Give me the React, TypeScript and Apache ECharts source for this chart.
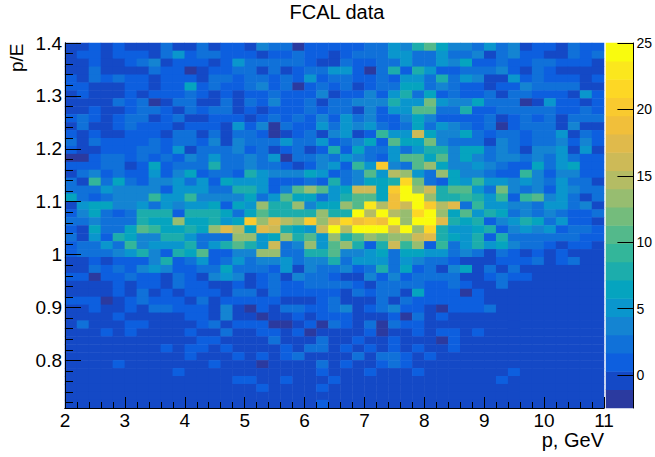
import React, { useEffect, useRef } from "react";
import * as echarts from "echarts";

const row00 = [0,0,1,0,1,0,0,0,2,0,0,2,0,1,1,0,4,2,3,-2,1,1,1,1,1,3,2,5,4,8,11,7,4,4,3,5,2,4,0,1,1,0,2,1,1];
const row01 = [0,1,1,0,1,1,1,0,2,5,1,2,2,1,1,1,0,1,1,2,1,1,0,1,2,2,2,5,5,3,3,5,2,2,4,0,3,4,1,1,0,0,3,1,3];
const row02 = [0,0,1,0,0,1,2,4,0,1,1,1,0,1,5,2,3,3,3,3,1,0,0,3,1,1,3,3,5,3,3,5,4,6,1,1,3,1,1,2,2,1,1,1,0];
const row03 = [0,0,2,0,0,0,0,2,1,1,-2,0,1,1,2,2,0,3,0,1,3,2,5,5,1,-2,2,8,1,8,5,1,1,2,3,3,4,1,0,2,1,0,-1,0,0];
const row04 = [1,0,2,1,2,1,1,0,1,1,1,0,3,2,1,2,3,1,2,1,5,1,2,3,1,1,2,1,5,5,3,8,2,5,4,0,0,5,1,2,1,1,1,0,1];
const row05 = [1,1,0,0,0,1,1,0,1,1,6,1,2,1,1,2,4,1,2,-2,1,3,1,2,0,1,3,2,6,7,3,4,3,1,1,0,1,1,4,2,3,3,2,0,0];
const row06 = [0,1,0,0,0,1,0,1,1,1,2,1,0,1,0,1,1,2,1,1,1,4,0,1,1,4,1,5,8,2,7,1,3,1,1,3,0,2,2,1,1,1,0,5,1];
const row07 = [0,0,0,0,3,1,3,-2,0,3,2,0,0,2,0,2,1,4,1,1,2,0,2,2,4,4,4,8,5,5,12,5,4,4,6,2,3,2,-2,0,5,1,1,0,1];
const row08 = [0,0,1,0,0,1,3,2,1,0,2,1,2,2,0,1,0,1,1,1,2,1,3,2,0,4,1,5,5,10,10,3,2,8,1,1,3,3,3,2,3,1,1,2,1];
const row09 = [1,2,1,0,1,3,2,0,1,2,0,0,1,1,1,0,1,2,1,3,1,4,1,5,3,4,1,1,4,6,4,1,1,1,1,2,0,1,3,1,3,0,2,2,2];
const row10 = [0,2,0,0,1,3,1,1,1,0,1,1,1,0,5,1,4,-2,2,1,1,5,2,5,4,5,3,1,3,6,3,5,4,2,1,3,-2,1,3,3,3,0,4,0,0];
const row11 = [1,0,1,0,0,1,1,1,0,2,2,0,2,0,2,2,1,-2,0,1,2,0,4,5,0,1,9,5,5,16,7,4,4,6,3,1,2,2,1,3,3,5,0,2,1];
const row12 = [2,0,2,1,1,1,1,3,1,2,2,1,4,0,4,2,2,3,5,3,2,5,1,2,4,7,1,11,7,7,12,4,3,2,2,0,4,2,1,2,2,4,1,4,1];
const row13 = [1,0,0,1,1,1,3,2,1,5,0,2,2,3,4,1,3,0,1,2,0,1,8,1,6,3,3,5,2,5,8,8,4,7,6,3,4,3,0,4,4,5,0,5,0];
const row14 = [-2,-2,1,2,2,1,3,1,3,1,4,2,5,2,2,4,3,5,-2,3,3,4,3,5,4,2,1,5,11,11,6,10,4,6,4,3,4,4,3,4,3,5,2,1,1];
const row15 = [1,1,1,2,2,0,1,6,1,3,3,3,8,2,2,4,3,3,1,0,1,4,5,1,9,5,20,4,3,10,14,7,4,4,5,4,3,1,1,6,2,5,6,1,1];
const row16 = [0,2,4,1,3,1,1,5,1,4,6,1,3,3,1,8,5,4,4,4,7,5,1,2,4,10,5,15,14,5,3,13,6,4,4,3,1,1,9,4,1,4,4,1,1];
const row17 = [3,0,9,3,6,3,1,4,4,5,3,5,1,6,5,5,5,1,1,1,2,1,8,3,4,6,7,8,21,12,3,1,6,5,9,5,5,4,5,4,2,5,3,3,0];
const row18 = [3,3,3,5,4,4,4,4,1,5,5,5,3,3,8,8,5,1,4,10,14,10,5,6,16,16,6,20,24,13,16,8,10,10,5,3,12,4,3,4,1,5,4,2,3];
const row19 = [7,2,1,3,4,4,4,9,5,5,9,4,4,4,4,7,2,5,11,6,7,2,5,8,11,10,6,19,24,24,14,8,8,9,8,5,9,1,9,11,4,5,3,0,3];
const row20 = [0,5,6,6,4,4,5,3,5,4,5,5,7,1,7,5,14,8,8,14,4,6,7,13,10,23,15,19,16,25,20,15,18,3,9,5,5,4,4,3,5,5,2,4,0];
const row21 = [1,4,6,2,1,2,8,8,8,1,8,8,8,6,3,6,11,8,8,8,8,13,8,8,24,15,24,15,13,22,25,13,6,11,5,8,6,2,4,2,4,3,1,1,2];
const row22 = [2,3,4,2,3,2,8,6,7,14,6,7,8,5,7,20,13,18,15,13,20,13,17,21,19,20,19,25,13,25,25,18,8,6,8,1,4,5,8,6,3,5,1,1,0];
const row23 = [1,0,6,3,3,7,11,9,6,6,8,7,14,17,15,7,18,16,8,7,5,16,25,15,25,25,25,16,24,14,21,8,5,5,6,8,1,4,5,4,5,1,3,3,1];
const row24 = [3,0,5,1,8,6,4,4,8,8,5,3,2,3,13,14,5,7,14,8,10,5,13,8,10,14,12,14,14,16,18,8,6,5,8,1,8,3,3,2,2,3,3,1,1];
const row25 = [1,3,3,5,2,9,4,5,5,5,8,3,5,8,10,8,5,16,3,4,13,5,11,14,8,1,8,16,9,13,1,9,3,5,8,5,6,4,3,3,1,0,1,1,0];
const row26 = [1,2,2,3,4,5,8,4,1,8,6,10,1,1,4,4,13,13,3,3,8,8,10,4,4,5,7,3,7,7,5,5,3,4,2,-1,2,1,0,1,0,1,0,0,0];
const row27 = [0,0,1,0,1,1,1,4,8,1,3,5,1,3,5,2,4,4,5,3,4,4,8,2,5,5,5,2,5,4,3,2,1,0,0,0,1,1,1,2,0,1,2,0,0];
const row28 = [0,0,2,1,3,1,4,5,4,1,1,3,3,6,2,2,3,1,5,0,4,3,3,4,1,2,8,2,6,1,3,0,4,6,0,3,-1,3,0,0,0,0,0,0,0];
const row29 = [1,1,-2,1,1,2,1,1,0,3,1,0,4,5,4,0,1,2,0,4,3,3,1,0,-1,4,1,4,1,3,3,3,2,0,0,1,3,1,1,0,0,0,0,0,0];
const row30 = [0,0,0,0,1,0,1,1,0,2,1,1,0,-1,1,0,1,2,1,1,3,3,3,2,1,0,3,2,3,3,1,1,3,1,0,0,3,0,0,0,0,0,0,0,0];
const row31 = [0,0,0,0,1,0,3,0,1,0,1,1,1,0,3,3,0,3,1,1,1,1,1,0,2,1,3,3,-1,7,1,1,1,-2,1,0,0,0,0,0,0,0,0,0,0];
const row32 = [1,1,1,-2,0,1,3,1,1,1,0,2,0,1,1,1,1,1,0,-1,0,1,2,-1,0,0,3,-1,2,1,1,1,1,1,1,0,0,0,0,0,0,0,0,0,0];
const row33 = [0,0,1,0,0,1,0,3,3,1,1,1,0,4,0,-2,1,0,2,2,1,1,3,4,0,1,3,4,1,1,0,-2,1,1,1,2,0,0,0,0,0,0,0,0,0];
const row34 = [0,0,0,0,1,0,0,0,0,0,1,1,0,4,0,0,-2,0,0,1,0,1,1,1,0,-1,0,1,-2,2,0,1,0,0,0,0,0,0,0,0,0,0,0,0,0];
const row35 = [0,3,0,0,0,1,1,0,0,0,0,1,3,0,1,1,1,-2,-2,0,1,-2,2,1,0,3,-2,2,1,1,0,0,0,0,0,0,0,0,0,0,0,0,0,0,0];
const row36 = [0,0,0,1,0,1,0,0,0,0,1,0,0,3,0,0,1,1,0,1,-2,0,0,0,0,1,-2,0,0,1,0,1,1,0,1,0,0,0,0,0,0,0,0,0,0];
const row37 = [0,0,0,0,0,0,0,0,0,0,0,1,1,0,0,0,0,3,0,0,0,3,0,0,1,0,0,1,0,0,0,-2,1,0,0,0,0,0,0,0,0,0,0,0,0];
const row38 = [0,0,0,0,0,0,0,0,1,0,1,1,0,1,0,0,0,0,1,0,2,3,0,1,0,1,0,1,0,1,0,0,1,0,0,0,0,0,0,0,0,0,0,0,0];
const row39 = [0,0,0,0,0,0,0,0,0,0,1,0,0,0,1,0,1,0,1,2,0,0,0,0,3,0,3,2,1,0,1,0,0,0,0,0,0,0,0,0,0,0,0,0,0];
const row40 = [0,0,0,0,1,0,0,0,0,0,0,0,1,0,0,0,-2,0,0,0,0,2,0,1,0,0,1,3,1,0,0,0,0,0,0,0,0,0,0,0,0,0,0,0,0];
const row41 = [0,0,0,0,0,0,0,0,0,1,0,0,0,0,0,0,0,0,0,0,0,1,0,0,0,1,0,0,0,1,0,0,0,0,0,0,0,1,0,0,0,0,0,0,0];
const row42 = [0,0,0,0,0,0,0,0,0,0,0,0,0,0,1,1,0,0,1,0,0,0,1,0,0,0,0,0,0,0,0,0,0,0,0,0,1,0,0,0,0,0,0,0,0];
const row43 = [0,0,0,0,0,0,0,0,0,0,0,0,0,0,0,0,1,0,0,0,0,1,0,0,0,0,0,0,0,0,0,0,0,0,0,0,0,0,0,0,0,0,0,0,0];
const row44 = [0,0,0,0,0,0,0,0,0,0,0,0,0,0,0,0,0,0,0,0,0,0,0,0,0,0,0,0,0,0,0,0,0,0,0,0,0,0,0,0,0,0,0,0,0];
const row45 = [0,0,0,0,0,0,0,0,0,0,0,0,0,0,0,0,0,0,0,0,0,1,0,0,0,0,0,0,0,0,0,0,0,0,0,0,0,0,0,0,0,0,0,0,0];

const rowsTopDown = [row00,row01,row02,row03,row04,row05,row06,row07,row08,row09,row10,row11,row12,row13,row14,row15,row16,row17,row18,row19,row20,row21,row22,row23,row24,row25,row26,row27,row28,row29,row30,row31,row32,row33,row34,row35,row36,row37,row38,row39,row40,row41,row42,row43,row44,row45];

const bandEdges = [-2.48,-1.1,0.27,1.64,3.02,4.39,5.76,7.14,8.51,9.89,11.26,12.63,14.01,15.39,16.76,18.14,19.51,20.89,22.26,23.63,25];
const bandColors = ["#2b3a9f","#1449c6","#0d5fdf","#1071d9","#1484d2","#0a96cd","#05a4bf","#1cadac","#33b69a","#53b98b","#74bc7c","#97bd70","#b4bc64","#cdba57","#e0ba4b","#f1bf3a","#f9ca2f","#fdd725","#fbe71d","#f9fb0e"];

const xMajor = [2,3,4,5,6,7,8,9,10,11];
const xMinor = [2.2,2.4,2.6,2.8,3.2,3.4,3.6,3.8,4.2,4.4,4.6,4.8,5.2,5.4,5.6,5.8,6.2,6.4,6.6,6.8,7.2,7.4,7.6,7.8,8.2,8.4,8.6,8.8,9.2,9.4,9.6,9.8,10.2,10.4,10.6,10.8];
const yMajor = [0.8,0.9,1,1.1,1.2,1.3,1.4];
const yMinor = [0.72,0.74,0.76,0.78,0.82,0.84,0.86,0.88,0.92,0.94,0.96,0.98,1.02,1.04,1.06,1.08,1.12,1.14,1.16,1.18,1.22,1.24,1.26,1.28,1.32,1.34,1.36,1.38];
const zTicks = [0,5,10,15,20,25];

const FONT = "Liberation Sans";
const INK = "#000";

export default function App() {
  const ref = useRef<HTMLDivElement>(null);
  useEffect(() => {
    const chart = echarts.init(ref.current!, undefined, { renderer: "svg" });
    const nRows = rowsTopDown.length;
    const data: number[][] = [];
    rowsTopDown.forEach((row, k) => row.forEach((v, c) => data.push([c, nRows - 1 - k, v])));
    const colData = bandColors.map((_, i) => [0, i, (bandEdges[i] + bandEdges[i + 1]) / 2]);
    const pieces = bandColors.map((color, i) => ({
      gte: i === 0 ? -100 : bandEdges[i],
      lt: i === bandColors.length - 1 ? 100 : bandEdges[i + 1],
      color,
    }));
    const hidden = { show: false };
    const valueAxisBase = { type: "value" as const, splitLine: hidden, silent: true, z: 10 };
    const xCommon = {
      ...valueAxisBase, gridIndex: 0, position: "bottom" as const, min: 2, max: 11,
      axisLine: { show: true, onZero: false, lineStyle: { color: INK, width: 1 } },
    };
    const yCommon = {
      ...valueAxisBase, gridIndex: 0, position: "left" as const, min: 0.71, max: 1.4,
      axisLine: { show: true, onZero: false, lineStyle: { color: INK, width: 1 } },
    };
    chart.setOption({
      animation: false,
      backgroundColor: "#fff",
      textStyle: { fontFamily: FONT },
      title: {
        text: "FCAL data", left: 337, top: 2, padding: 0, textAlign: "center",
        textStyle: { fontFamily: FONT, fontSize: 20, fontWeight: "normal", color: "#000" },
      },
      grid: [
        { left: 65, top: 43, width: 539, height: 365 },
        { left: 606, top: 43, width: 31, height: 365 },
      ],
      xAxis: [
        { type: "category", gridIndex: 0, show: false, data: row00.map((_, i) => i) },
        { type: "category", gridIndex: 1, show: false, data: ["z"] },
        {
          ...xCommon,
          axisTick: { show: true, inside: true, length: 11, customValues: xMajor, lineStyle: { color: INK } },
          axisLabel: { show: true, customValues: xMajor, margin: 3, fontFamily: FONT, fontSize: 19, color: "#000" },
        },
        {
          ...xCommon,
          axisTick: { show: true, inside: true, length: 6, customValues: xMinor, lineStyle: { color: INK } },
          axisLabel: { show: false },
        },
      ],
      yAxis: [
        { type: "category", gridIndex: 0, show: false, data: rowsTopDown.map((_, i) => i) },
        { type: "category", gridIndex: 1, show: false, data: bandColors.map((_, i) => i) },
        {
          ...yCommon,
          axisTick: { show: true, inside: true, length: 16, customValues: yMajor, lineStyle: { color: INK } },
          axisLabel: { show: true, customValues: yMajor, margin: 3, fontFamily: FONT, fontSize: 19, color: "#000" },
        },
        {
          ...yCommon,
          axisTick: { show: true, inside: true, length: 8, customValues: yMinor, lineStyle: { color: INK } },
          axisLabel: { show: false },
        },
        {
          ...valueAxisBase, gridIndex: 1, position: "right", min: bandEdges[0], max: 25,
          axisLine: { show: true, onZero: false, lineStyle: { color: INK, width: 1 } },
          axisTick: { show: true, inside: true, length: 16, customValues: zTicks, lineStyle: { color: INK } },
          axisLabel: { show: true, customValues: zTicks, margin: 3, fontFamily: FONT, fontSize: 14, color: "#000" },
        },
      ],
      visualMap: { show: false, type: "piecewise", seriesIndex: [0, 1], dimension: 2, pieces },
      series: [
        { type: "heatmap", xAxisIndex: 0, yAxisIndex: 0, data, silent: true, progressive: 0, itemStyle: { borderWidth: 0 } },
        { type: "heatmap", xAxisIndex: 1, yAxisIndex: 1, data: colData, silent: true, itemStyle: { borderWidth: 0 } },
      ],
      graphic: [
        { type: "text", right: 51, top: 430, z: 20, style: { text: "p, GeV", fontFamily: FONT, fontSize: 20, fill: "#000" } },
        { type: "text", x: 7, y: 72, rotation: Math.PI / 2, z: 20, style: { text: "p/E", fontFamily: FONT, fontSize: 19, fill: "#000" } },
      ],
    });
    return () => chart.dispose();
  }, []);
  return <div ref={ref} style={{ position: "absolute", left: 0, top: 0, width: 655, height: 457 }} />;
}
